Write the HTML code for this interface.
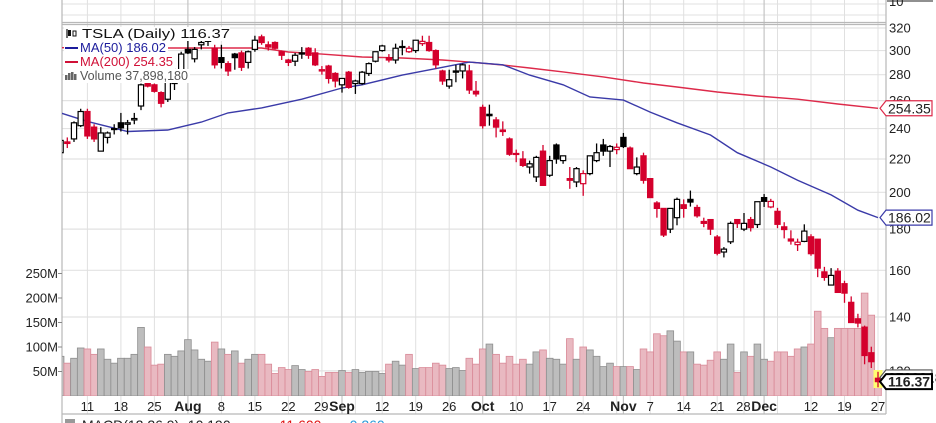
<!DOCTYPE html>
<html><head><meta charset="utf-8"><style>
html,body{margin:0;padding:0;background:#fff;}
svg{display:block;font-family:"Liberation Sans",Arial,sans-serif;}
</style></head><body>
<svg id="chart" width="936" height="423" viewBox="0 0 936 423" xmlns="http://www.w3.org/2000/svg">
<defs><clipPath id="plotclip"><rect x="62" y="0" width="824" height="396"/></clipPath></defs>
<rect x="0" y="0" width="936" height="423" fill="#fff"/>
<g id="grid"></g>
<g id="vol" clip-path="url(#plotclip)"></g>
<g id="ma" clip-path="url(#plotclip)"></g>
<g id="candles" clip-path="url(#plotclip)"></g>
<g id="axes"></g>
<g id="legend"></g>
</svg>
<script>
// ---- data ----
const opens  = [224,231,233,242,252,241,225,234,240,244,243,246,256,273,272,266,261,273,280,301,293,305,309,302,294,289,297,298,290,301,312,305,307,299,292,291,298,302,298,283,287,281,272,282,273,273,281,291,300,294,292,303.5,299,300,306,307,300,283,271,283,283,283,267,255,250,246,239,233,223.5,220,215,209,225,210,229,219,208,206,205,211,219,229,225,226,234,227,211,222,208,194,191,180,186,193,196,191.5,184,185,176,168.6,173.6,185,180,185,182.4,197,191.8,189.4,181.2,175,172.2,173.8,176.1,174.9,159.3,153.4,159.6,154,146,139.3,136,126.4,117.5];
const highs  = [233,234,245,254,254,243,241,238,243,251,246,251,273,275,273,267,275,285,299,311,303,309,313,305,305,291,298,300,300,313,314,308,308,300,293,298,303,303,302,287,288,282,277,283,276,283,290,299,305,297,306,309,304,309,313,313,301,284,284,288,289,288,275,257,257,248,245,234,226,225,219,222,229,222,230,222,215,215,213,222,230,233,229,230,237,228,221,224,208,195,191,191,197,196,201,193,186,185,177,171,184,185,188.5,186.4,194.8,199,196.3,191.3,183.6,179.4,175.2,182.5,177.4,175,161.6,161,161,155.3,148.5,141.3,136.6,128.6,119.7];
const lows   = [220,227,231,241,233,231,225,230,236,238,236,243,253,270,266,255,259,268,279,297,290,301,304,285,285,279,284,283,285,299,305,300,301,292,287,287,293,293,287,280,273,270,266,269,265,272,279,290,299,290,289,296,298,298,304,299,285,272,269,274,277,265,263,240,242,234,235,222,218,215,211,206,204,209,217,217,202,203,198,210,218,222,215,223,227,214,210,205,197,186,176,178,182,186,192,186,181,177,167,166,172.5,180.6,179,178.8,180.6,191.8,191.1,180.5,175.3,172.2,169.1,173.4,166.8,156.9,155.3,153.3,150,145.8,137.7,135.9,122.3,121,114.5];
const closes = [232,230,244,252,235,233,237,237,240,240.5,244,247,272,271,267,258,274,280,297,298,301,307,308,288,290,283,294,286,299,309,307,303,302,296,290,296,297,296,288,284,277,275,277,270,275,282,289,299,304,292,302,303,302,309,308,300,288,275,276,282,288,268,265,242,249,241,238,223,222.9,216,217,221,204,219,220,222,207,214,211,222,224,225,228,227.5,228,214,215,207,197,191,177,191,196,191,194.5,187,183,180,168,170,183,182.9,183,180.8,194.7,194.9,194.86,182.5,179.8,174,173.4,179,167.8,161,156.8,157.7,150.2,149.9,137.8,137.6,125.4,123.2,116.37];
const volumes = [81,67,77,98,96,85,96,75,67,77,77,85,140,100,63,65,85,81,92,115,94,75,71,110,96,85,92,67,75,85,85,65,46,58,54,62,54,50,54,40,48,48,52,48,54,48,50,50,46,65,71,63,85,56,58,58,67,63,56,58,52,77,65,96,106,85,67,81,65,75,65,90,94,77,75,65,117,75,100,94,81,60,67,60,60,60,54,96,90,127,123,133,112,90,90,65,63,73,90,75,106,48,90,81,106,75,71,90,90,81,96,100,106,173,138,119,138,138,138,138,210,165,38];
const ma50Idx = [0,4,10,16,21,25,30,36,42,45,51,57,61,66,70,75,79,84,88,92,97,101,106,110,115,119,122];
const ma50Val = [251,245,238,239,244.5,251,254.6,261,269.5,272,279.7,286,290.3,288,279.7,272,262.7,260.4,251.6,244,235.6,224,215,207,198.5,190,186.02];
const ma200Idx = [0,16,30,34,39,45,51,57,61,66,70,75,81,87,92,98,104,110,116,122];
const ma200Val = [302.5,302.2,302.2,298.8,297,294.5,293.7,292,290.3,287.9,285.4,282.2,278.2,273.4,270.3,266.5,263.4,261,257.5,254.35];
const priceTicks = [320,300,280,260,240,220,200,180,160,140,120];
const volTicks = [250,200,150,100,50];
const volTickLabels = ['250M','200M','150M','100M','50M'];
const dateIdx = [4,9,14,19,24,29,34,39,42,48,53,58,63,68,73,78,84,88,93,98,102,105,112,117,122];
const dateLabels = ['11','18','25','Aug','8','15','22','29','Sep','12','19','26','Oct','10','17','24','Nov','7','14','21','28','Dec','12','19','27'];
const weekLineIdx = [4,9,14,24,29,34,39,44,48,53,58,68,73,78,83,88,93,98,102,107,112,117,122];
const monthLineIdx = [19,42,63,84,105];

// ---- axes ----
const N = closes.length;
const X = i => 878 - (N-1-i)*6.7;
const Y = p => 28 + 349.6*Math.log(320/p);
const VY = v => 396 - 0.49*v;
const NS = 'http://www.w3.org/2000/svg';
function mk(tag, attrs, parent){const e=document.createElementNS(NS,tag);for(const k in attrs)e.setAttribute(k,attrs[k]);parent.appendChild(e);return e;}
const grid=document.getElementById('grid'), vol=document.getElementById('vol'), ma=document.getElementById('ma'), cg=document.getElementById('candles'), ax=document.getElementById('axes'), lg=document.getElementById('legend');

// upper panel remnants
for(const yy of [4,15]){const l=mk('line',{x1:62,x2:886,y1:yy,y2:yy,stroke:'#e2e2e2','stroke-width':1},grid);

}
// price gridlines
priceTicks.forEach(p=>{const l=mk('line',{x1:62,x2:886,y1:Y(p),y2:Y(p),stroke:'#e2e2e2','stroke-width':1.2},grid);

});
weekLineIdx.forEach(i=>{const l=mk('line',{x1:X(i),x2:X(i),y1:0,y2:414,stroke:'#e0e0e0','stroke-width':1},grid);

});
monthLineIdx.forEach(i=>{const l=mk('line',{x1:X(i),x2:X(i),y1:0,y2:414,stroke:'#c4c4c4','stroke-width':1.2},grid);

});
// panel borders
[[62,886,24.5,24.5],[62,886,22.5,22.5],[62,886,414,414],[62,62,0,423],[886,886,0,414]].forEach(a=>{const l=mk('line',{x1:a[0],x2:a[1],y1:a[2],y2:a[3],stroke:'#b8b8b8','stroke-width':1.2},grid);

});

// volume bars
for(let i=0;i<N;i++){
  const down = i>0 && closes[i]<closes[i-1];
  const r=mk('rect',{x:X(i)-3.35,y:VY(volumes[i]),width:6.7,height:396-VY(volumes[i]),fill:down?'#e9b9c1':'#bdbdbd',stroke:down?'#d98a98':'#8e8e8e','stroke-width':0.8},vol);
  
  
}
// moving averages
function maPath(idx,val,color,name){
  const d=idx.map((ii,k)=>(k?'L':'M')+X(ii).toFixed(1)+' '+Y(val[k]).toFixed(1)).join(' ');
  const p=mk('path',{d:d,fill:'none',stroke:color,'stroke-width':1.4},ma);
  
  
}
maPath(ma200Idx,ma200Val,'#dd2a4a','ma200-line');
maPath(ma50Idx,ma50Val,'#3a3aa8','ma50-line');

// highlight last
const hl=mk('rect',{x:X(N-1)-4.5,y:370,width:9,height:18,fill:'#ffff70'},cg);


// candles
for(let i=0;i<N;i++){
  const o=opens[i],c=closes[i],h=highs[i],l=lows[i];
  const red = i>0 && c<closes[i-1];
  const col = red?'#d4002c':'#000';
  const x=X(i);
  const w=mk('line',{x1:x,x2:x,y1:Y(h),y2:Y(l),stroke:col,'stroke-width':1.3},cg);
  
  
  const top=Y(Math.max(o,c)), bot=Y(Math.min(o,c));
  const filled = c<o;
  const b=mk('rect',{x:x-2.6,y:top,width:5.2,height:Math.max(1,bot-top),fill:filled?col:'#fff',stroke:col,'stroke-width':1.2},cg);
  
  
}

// right axis labels
function txt(parent,x,y,s,attrs){const t=mk('text',Object.assign({x:x,y:y,'font-size':13,fill:'#222'},attrs||{}),parent);t.textContent=s;return t;}
priceTicks.forEach(p=>{const t=txt(ax,889,Y(p)+4.5,String(p));

});
const t10=txt(ax,889,6,'10');


const tl=mk('line',{x1:887,x2:933,y1:1,y2:1,stroke:'#222','stroke-width':1},ax);


volTicks.forEach((v,k)=>{
  const t=txt(ax,58,VY(v)+4.5,volTickLabels[k],{'text-anchor':'end'});
  
  
  const tk=mk('line',{x1:58,x2:62,y1:VY(v),y2:VY(v),stroke:'#888'},ax);
  
  
});
// date labels
dateIdx.forEach((i,k)=>{
  const s=dateLabels[k], isMonth=/[A-Za-z]/.test(s);
  let x=X(i), anchor='middle';
  if(k+1<dateIdx.length && /[A-Za-z]/.test(dateLabels[k+1]) && X(dateIdx[k+1])-x<28){x=X(dateIdx[k+1])-13.5;anchor='end';}
  const t=txt(ax,x,411,s,{'text-anchor':anchor,'font-weight':isMonth?'bold':'normal','font-size':isMonth?14:13});
  
  
});
// value markers
function marker(y,label,color,bold,name){
  const g=mk('g',{},ax);
  
  
  mk('path',{d:`M880 ${y} L886 ${y-7.5} L932 ${y-7.5} L932 ${y+7.5} L886 ${y+7.5} Z`,fill:'#fff',stroke:color,'stroke-width':bold?2:1.2},g);
  txt(g,888,y+5,label,{'font-size':14,'font-weight':bold?'bold':'normal',fill:'#222'});
}
marker(VY(37.9),'37898180','#555',false,'volume-marker');
marker(Y(ma200Val[ma200Val.length-1]),'254.35','#dd2a4a',false,'ma200-marker');
marker(Y(ma50Val[ma50Val.length-1]),'186.02','#3a3aa8',false,'ma50-marker');
marker(Y(closes[N-1]),'116.37','#000',true,'last-price-marker');

// legend
const rows=[[38,'TSLA (Daily) 116.37','#111',148],[52,'MA(50) 186.02','#1c1c9c',86],[66,'MA(200) 254.35','#d01037',93],[80,'Volume 37,898,180','#555',108]];
const names=['legend-tsla','legend-ma50','legend-ma200','legend-volume'];
rows.forEach((r,k)=>{
  const g=mk('g',{},lg);
  
  
  mk('rect',{x:64,y:r[0]-11,width:r[3]+18,height:14,fill:'#fff'},g);
  txt(g,k==0?82:80,r[0],r[1],{fill:r[2],textLength:r[3],lengthAdjust:'spacingAndGlyphs'});
});
// legend icons
(function(){
  const g=mk('g',{},lg);
  
  
  mk('line',{x1:67,x2:67,y1:29,y2:38,stroke:'#111','stroke-width':1.2},g);
  mk('rect',{x:68,y:30,width:3,height:6,fill:'#111'},g);
  mk('rect',{x:73,y:31,width:3,height:5,fill:'#fff',stroke:'#111'},g);
  mk('line',{x1:65,x2:78,y1:48,y2:48,stroke:'#1c1c9c','stroke-width':2},g);
  mk('line',{x1:65,x2:78,y1:62,y2:62,stroke:'#d01037','stroke-width':2},g);
  [[65,75],[68,73],[71,72],[74,74]].forEach(b=>mk('rect',{x:b[0],y:b[1],width:2.5,height:80-b[1],fill:'#666'},g));
})();
// MACD sliver
(function(){
  const g=mk('g',{},lg);
  
  
  mk('rect',{x:65,y:419,width:10,height:8,fill:'#999'},g);
  txt(g,82,430,'MACD(12,26,9) -10.190',{fill:'#222','font-size':14});
  txt(g,275,430,'-11.600',{fill:'#e01010','font-size':14});
  txt(g,345,430,'-0.260',{fill:'#2a9ad8','font-size':14});
})();
</script>
</body></html>
